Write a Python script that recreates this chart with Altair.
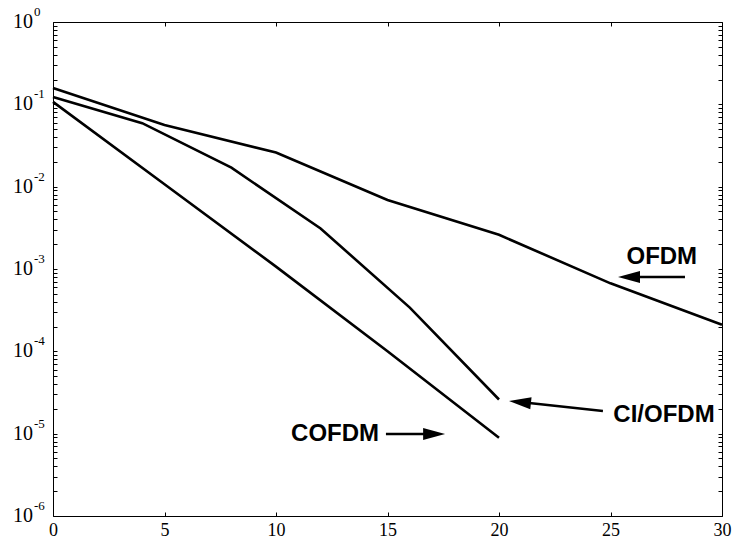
import altair as alt
import pandas as pd

# ---- data ----
ofdm_x = [0, 5, 10, 15, 20, 25, 30]
ofdm_y = [0.158, 0.056, 0.026, 0.0069, 0.0026, 6.7e-4, 2.1e-4]
ci_x = [0, 4, 8, 12, 16, 20]
ci_y = [0.123, 0.059, 0.017, 0.0031, 3.4e-4, 2.6e-5]
cofdm_x = [0, 5, 10, 15, 20]
cofdm_y = [0.107, 0.0107, 1.07e-3, 1.0e-4, 8.9e-6]

x_ticks = [0, 5, 10, 15, 20, 25, 30]
decades = [1, 1e-1, 1e-2, 1e-3, 1e-4, 1e-5, 1e-6]
exponents = ["0", "-1", "-2", "-3", "-4", "-5", "-6"]
minor_mult = [2, 3, 4, 5, 6, 7, 8, 9]

# annotations (data coordinates)
ann_text = ["OFDM", "CI/OFDM", "COFDM"]
ann_x = [27.3, 27.4, 12.65]
ann_y = [1.40e-3, 1.69e-5, 9.9e-6]
tail_x = [28.34, 24.66, 14.93]
tail_y = [8.0e-4, 1.88e-5, 9.9e-6]
head_x = [25.83, 20.94, 17.09]
head_y = [8.0e-4, 2.42e-5, 9.9e-6]
head_angle = [0, 6, 180]

# ---- tables ----
lines = pd.concat([
    pd.DataFrame({"x": ofdm_x, "y": ofdm_y, "s": "OFDM"}),
    pd.DataFrame({"x": ci_x, "y": ci_y, "s": "CI/OFDM"}),
    pd.DataFrame({"x": cofdm_x, "y": cofdm_y, "s": "COFDM"}),
])
y_ticks = decades + [m * d for d in decades[1:] for m in minor_mult]
lab = pd.DataFrame({"y": decades, "e": exponents})
ann = pd.DataFrame({"t": ann_text, "x": ann_x, "y": ann_y})
arr = pd.DataFrame({"x": tail_x, "y": tail_y, "x2": head_x, "y2": head_y,
                    "hx": head_x, "hy": head_y, "a": head_angle})

W, H = 669, 494
xs = alt.Scale(domain=[0, 30], nice=False, zero=False)
ys = alt.Scale(type="log", domain=[1e-6, 1], nice=False)
serif = "Liberation Serif"
sans = "Liberation Sans"

tick_common = dict(tickSize=4, offset=-4, domain=False, grid=False, title=None,
                   tickColor="black", tickWidth=1)

line_layer = alt.Chart(lines).mark_line(color="black", strokeWidth=2.6).encode(
    x=alt.X("x:Q", scale=xs, axis=alt.Axis(orient="bottom", values=x_ticks,
            labelFont=serif, labelFontSize=18, labelColor="black",
            labelPadding=5, labelFlush=False, labelOverlap=False, format="d",
            **tick_common)),
    y=alt.Y("y:Q", scale=ys, axis=alt.Axis(orient="left", values=y_ticks,
            labels=False, **tick_common)),
    detail="s:N",
)

rule_layer = alt.Chart(arr).mark_rule(color="black", strokeWidth=2.5).encode(
    x=alt.X("x:Q", scale=xs, axis=alt.Axis(orient="top", values=x_ticks,
            labels=False, **tick_common)),
    y=alt.Y("y:Q", scale=ys, axis=alt.Axis(orient="right", values=y_ticks,
            labels=False, **tick_common)),
    x2="x2:Q", y2="y2:Q",
)

head_layer = alt.Chart(arr).mark_point(
    shape="M-1,0L1,-0.55L1,0.55Z", filled=True, color="black", opacity=1,
    size=484, strokeWidth=0,
).encode(
    x=alt.X("hx:Q", scale=xs, axis=None),
    y=alt.Y("hy:Q", scale=ys, axis=None),
    angle=alt.Angle("a:Q", scale=None),
)

ann_layer = alt.Chart(ann).mark_text(
    font=sans, fontSize=24, fontWeight="bold", color="black",
    align="center", baseline="middle",
).encode(
    x=alt.X("x:Q", scale=xs, axis=None),
    y=alt.Y("y:Q", scale=ys, axis=None),
    text="t:N",
)

ten_layer = alt.Chart(lab).mark_text(
    font=serif, fontSize=20, color="black", align="right",
    baseline="alphabetic", dy=6,
).encode(
    x=alt.value(-20),
    y=alt.Y("y:Q", scale=ys, axis=None),
    text=alt.value("10"),
)

exp_layer = alt.Chart(lab).mark_text(
    font=serif, fontSize=13, color="black", align="left",
    baseline="alphabetic", dy=-6,
).encode(
    x=alt.value(-19),
    y=alt.Y("y:Q", scale=ys, axis=None),
    text="e:N",
)

chart = alt.layer(
    line_layer, rule_layer, head_layer, ann_layer, ten_layer, exp_layer
).resolve_axis(x="independent", y="independent").properties(
    width=W, height=H,
    autosize=alt.AutoSizeParams(type="none"),
    padding={"left": 53, "top": 22, "right": 10, "bottom": 33},
    background="white",
).configure_view(stroke="black", strokeWidth=1)

chart.save("out.html", embed_options={"renderer": "svg", "actions": False})
